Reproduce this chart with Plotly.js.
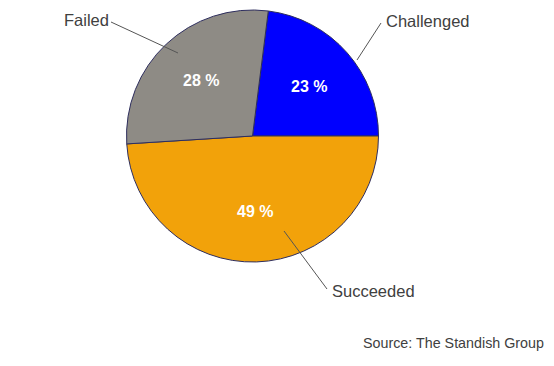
<!DOCTYPE html>
<html><head><meta charset="utf-8">
<script src="https://cdn.plot.ly/plotly-3.0.1.min.js"></script>
<style>html,body{margin:0;padding:0;background:#fff}#chart{width:554px;height:366px}</style>
</head><body><div id="chart"></div>
<script>
const categories = ["Challenged", "Succeeded", "Failed"];
const percents = [23, 49, 28];
const sliceColors = ["#0000FF", "#F2A20A", "#8E8B85"];
const sourceNote = "Source: The Standish Group";

const W = 554, H = 366;
const px = (x) => x / W, py = (y) => 1 - y / H;
const cx = 252.5, cy = 136, R = 126;
const startDeg = 90 - percents[0] * 3.6;   // clockwise from 12 o'clock

const labelPos = {
  "Failed":     {text:[86,20],  line:[[111,22],[178,53]]},
  "Challenged": {text:[427,21], line:[[381,23],[357,60]]},
  "Succeeded":  {text:[373,291],line:[[327,289],[284,231]]}
};

const annotations = [], shapes = [];
let acc = 0;
categories.forEach((c, i) => {
  const total = percents.reduce((a, b) => a + b, 0);
  const mid = (startDeg + (acc + percents[i] / 2) / total * 360) * Math.PI / 180;
  acc += percents[i];
  const r = 0.6 * R;
  annotations.push({xref:'paper', yref:'paper', x:px(cx + r * Math.sin(mid)), y:py(cy - r * Math.cos(mid)),
    text:'<b>' + percents[i] + ' %</b>', showarrow:false, xanchor:'center', yanchor:'middle',
    font:{family:'Arial, Liberation Sans', size:16, color:'#FFFFFF'}});
  const p = labelPos[c];
  annotations.push({xref:'paper', yref:'paper', x:px(p.text[0]), y:py(p.text[1]),
    text:c, showarrow:false, xanchor:'center', yanchor:'middle',
    font:{family:'Arial, Liberation Sans', size:16.5, color:'#404040'}});
  shapes.push({type:'line', xref:'paper', yref:'paper',
    x0:px(p.line[0][0]), y0:py(p.line[0][1]), x1:px(p.line[1][0]), y1:py(p.line[1][1]),
    line:{color:'#555555', width:1}});
});
annotations.push({xref:'paper', yref:'paper', x:px(546), y:py(343), text:sourceNote,
  showarrow:false, xanchor:'right', yanchor:'middle',
  font:{family:'Arial, Liberation Sans', size:14.3, color:'#404040'}});

const trace = {
  type:'pie', labels:categories, values:percents, sort:false, direction:'clockwise',
  rotation: startDeg,
  marker:{colors:sliceColors, line:{color:'#2E2E5E', width:1}},
  textinfo:'none', hoverinfo:'none', showlegend:false,
  domain:{x:[px(cx-R), px(cx+R)], y:[py(cy+R), py(cy-R)]}
};

Plotly.newPlot('chart', [trace], {
  width:W, height:H, margin:{l:0,r:0,t:0,b:0}, showlegend:false,
  paper_bgcolor:'#FFFFFF', annotations, shapes
}, {staticPlot:true});
</script></body></html>
